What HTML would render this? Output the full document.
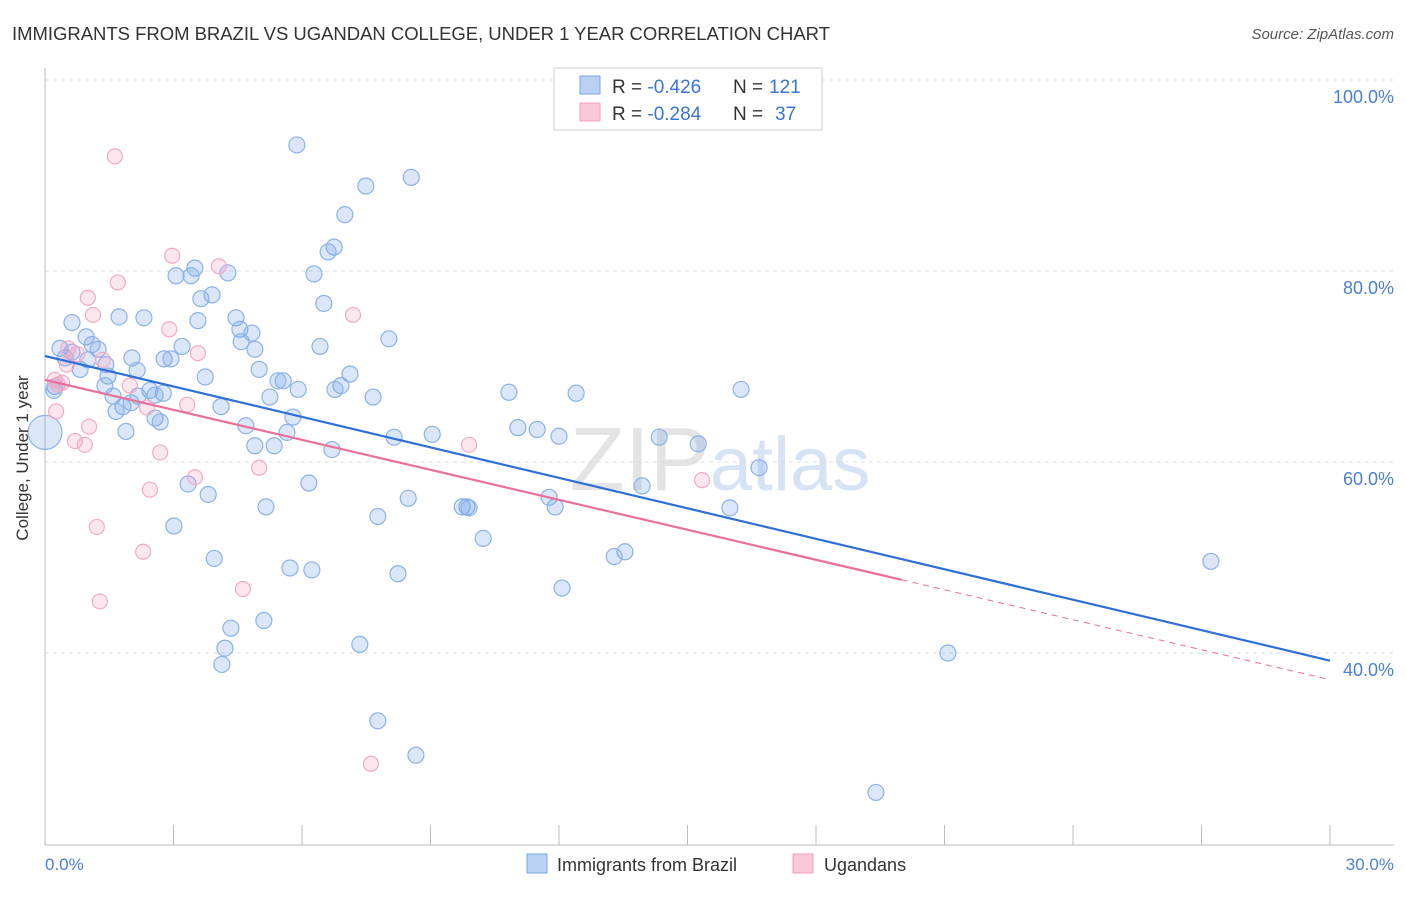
<!DOCTYPE html>
<html><head><meta charset="utf-8"><style>
body{margin:0;background:#fff;font-family:"Liberation Sans",sans-serif}
svg text{font-family:"Liberation Sans",sans-serif}
</style></head><body>
<svg id="chart" width="1406" height="892">
<text x="12" y="40" font-size="18.5" fill="#333" textLength="818">IMMIGRANTS FROM BRAZIL VS UGANDAN COLLEGE, UNDER 1 YEAR CORRELATION CHART</text>
<text x="1394" y="39" font-size="15" fill="#555" font-style="italic" text-anchor="end">Source: ZipAtlas.com</text>
<text x="720" y="490" font-size="90" fill="#e4e4e4" text-anchor="middle" font-family="Liberation Serif">ZIP<tspan fill="#d5e3f5" font-family="Liberation Sans" font-size="76">atlas</tspan></text>
<g id="grid"></g><g id="axes"></g><g id="pts"></g><g id="lines"></g>
<text x="28" y="458" font-size="17" fill="#333" text-anchor="middle" transform="rotate(-90 28 458)">College, Under 1 year</text>
<text x="45" y="870" font-size="17" fill="#4a7fd6">0.0%</text>
<text x="1394" y="870" font-size="17" fill="#4a7fd6" text-anchor="end">30.0%</text>
<g>
<rect x="554" y="68" width="268" height="62" fill="#fff" stroke="#ccc"/>
<rect x="580" y="76" width="20" height="18" fill="#b8d0f2" stroke="#7aa6e6"/>
<rect x="580" y="103" width="20" height="18" fill="#f9c9d8" stroke="#f0a0bb"/>
<text x="612" y="93" font-size="19" fill="#333">R = <tspan fill="#3a74d8">-0.426</tspan></text>
<text x="733" y="93" font-size="19" fill="#333">N =</text>
<text x="769" y="93" font-size="19" fill="#3a74d8">121</text>
<text x="612" y="120" font-size="19" fill="#333">R = <tspan fill="#3a74d8">-0.284</tspan></text>
<text x="733" y="120" font-size="19" fill="#333">N =</text>
<text x="775" y="120" font-size="19" fill="#3a74d8">37</text>
</g>
<g>
<rect x="527" y="854" width="20" height="19" fill="#b8d0f2" stroke="#7aa6e6"/>
<text x="557" y="871" font-size="18" fill="#333">Immigrants from Brazil</text>
<rect x="793" y="854" width="20" height="19" fill="#f9c9d8" stroke="#f0a0bb"/>
<text x="824" y="871" font-size="18" fill="#333">Ugandans</text>
</g>
</svg>
<script>
const yTicks=[100,80,60,40];
const xTicks=[0,3,6,9,12,15,18,21,24,27,30];
const brazilX=[5.88,8.55,7.49,7.00,6.75,6.61,6.28,3.50,3.06,3.41,4.27,3.90,3.64,6.51,1.73,2.31,4.46,3.57,0.63,4.55,4.83,0.96,4.58,1.10,8.03,6.42,0.35,1.24,3.20,4.90,0.63,2.03,2.78,2.94,1.00,1.42,5.00,2.15,0.82,3.74,7.12,1.47,5.56,5.44,1.40,5.91,6.91,0.23,2.45,2.76,2.17,1.59,2.57,7.66,6.77,10.83,12.40,16.25,5.25,1.82,1.66,4.11,2.01,5.79,2.57,2.69,4.69,1.89,5.65,11.04,11.49,9.04,8.15,12.00,14.34,15.25,4.90,5.35,6.70,16.67,13.94,3.34,6.16,3.81,8.48,11.77,5.16,7.77,9.85,9.74,9.90,11.91,15.99,3.01,10.23,13.54,13.29,3.95,5.72,6.23,8.24,27.22,12.07,4.34,5.11,4.20,7.35,21.08,4.13,7.77,8.66,19.40,0,0.21,0.47];
const brazilY=[93.2,89.8,88.9,85.9,82.5,82.0,79.7,80.3,79.5,79.5,79.8,77.5,77.1,76.6,75.2,75.1,75.1,74.8,74.6,73.9,73.5,73.1,72.6,72.3,72.9,72.1,71.9,71.8,72.1,71.8,71.5,70.9,70.8,70.8,70.7,70.2,69.7,69.6,69.7,68.9,69.2,69.0,68.5,68.5,68.0,67.6,68.0,67.9,67.5,67.2,66.9,66.9,67.0,66.8,67.6,67.3,67.2,67.6,66.8,65.8,65.3,65.8,66.2,64.7,64.6,64.2,63.8,63.2,63.1,63.6,63.4,62.9,62.6,62.7,62.6,61.9,61.7,61.7,61.3,59.4,57.5,57.7,57.8,56.6,56.2,56.3,55.3,54.3,55.3,55.3,55.2,55.3,55.2,53.3,52.0,50.6,50.1,49.9,48.9,48.7,48.3,49.6,46.8,42.6,43.4,40.5,40.9,40.0,38.8,32.9,29.3,25.4,63.1,67.5,70.9];
const ugX=[1.63,2.97,4.06,1.70,1.00,1.12,7.19,2.90,3.57,1.35,0.51,0.54,0.23,0.30,1.98,2.38,3.32,1.03,0.26,0.70,0.93,2.69,3.50,5.00,2.45,1.21,2.29,4.62,1.28,7.61,9.90,15.34,0.40,0.75];
const ugY=[92.0,81.6,80.5,78.8,77.2,75.4,75.4,73.9,71.4,70.7,70.2,71.9,68.6,68.1,68.0,65.7,66.0,63.7,65.3,62.2,61.8,61.0,58.4,59.4,57.1,53.2,50.6,46.7,45.4,28.4,61.8,58.1,68.3,71.3];
const brazilTrend=[71.1,39.2];
const ugTrend=[68.6,37.2];
const ugTrendSolidEnd=20;
const NS='http://www.w3.org/2000/svg';
const X=v=>45+v/30*1285, Y=v=>80+(100-v)*9.55;
function mk(t,a,p){const e=document.createElementNS(NS,t);for(const k in a)e.setAttribute(k,a[k]);p.appendChild(e);return e;}
const grid=document.getElementById('grid'),axes=document.getElementById('axes'),pts=document.getElementById('pts'),lines=document.getElementById('lines');
yTicks.forEach(v=>{
 const l=mk('line',{x1:45,x2:1394,y1:Y(v),y2:Y(v),stroke:'#ddd','stroke-dasharray':'4,4'},grid);
 
 
 const t=mk('text',{x:1394,y:Y(v)+23,'font-size':18,fill:'#4a7fd6','text-anchor':'end'},grid);
 t.textContent=v.toFixed(1)+'%';
 
 
});
const ax=mk('line',{x1:45,x2:45,y1:68,y2:845,stroke:'#bbb'},axes);


const bx=mk('line',{x1:45,x2:1394,y1:845,y2:845,stroke:'#bbb'},axes);


xTicks.forEach(v=>{
 const l=mk('line',{x1:X(v),x2:X(v),y1:825,y2:845,stroke:'#bbb'},axes);
 
 
});
brazilX.forEach((v,i)=>{
 const c=mk('circle',{cx:X(v),cy:Y(brazilY[i]),r:(v===0?17:8),fill:'rgba(110,160,230,0.25)',stroke:'#8ab2ea','stroke-width':1.2},pts);
 
 
});
ugX.forEach((v,i)=>{
 const c=mk('circle',{cx:X(v),cy:Y(ugY[i]),r:7.5,fill:'rgba(245,160,190,0.25)',stroke:'#f2aac2','stroke-width':1.2},pts);
 
 
});
const bl=mk('line',{x1:X(0),y1:Y(brazilTrend[0]),x2:X(30),y2:Y(brazilTrend[1]),stroke:'#2f6fd6','stroke-width':2.2},lines);


const ym=ugTrend[0]+(ugTrend[1]-ugTrend[0])*ugTrendSolidEnd/30;
const pl=mk('line',{x1:X(0),y1:Y(ugTrend[0]),x2:X(ugTrendSolidEnd),y2:Y(ym),stroke:'#e8709a','stroke-width':2.2},lines);


const pd=mk('line',{x1:X(ugTrendSolidEnd),y1:Y(ym),x2:X(30),y2:Y(ugTrend[1]),stroke:'#e8709a','stroke-width':1,'stroke-dasharray':'6,5'},lines);


</script>
</body></html>
